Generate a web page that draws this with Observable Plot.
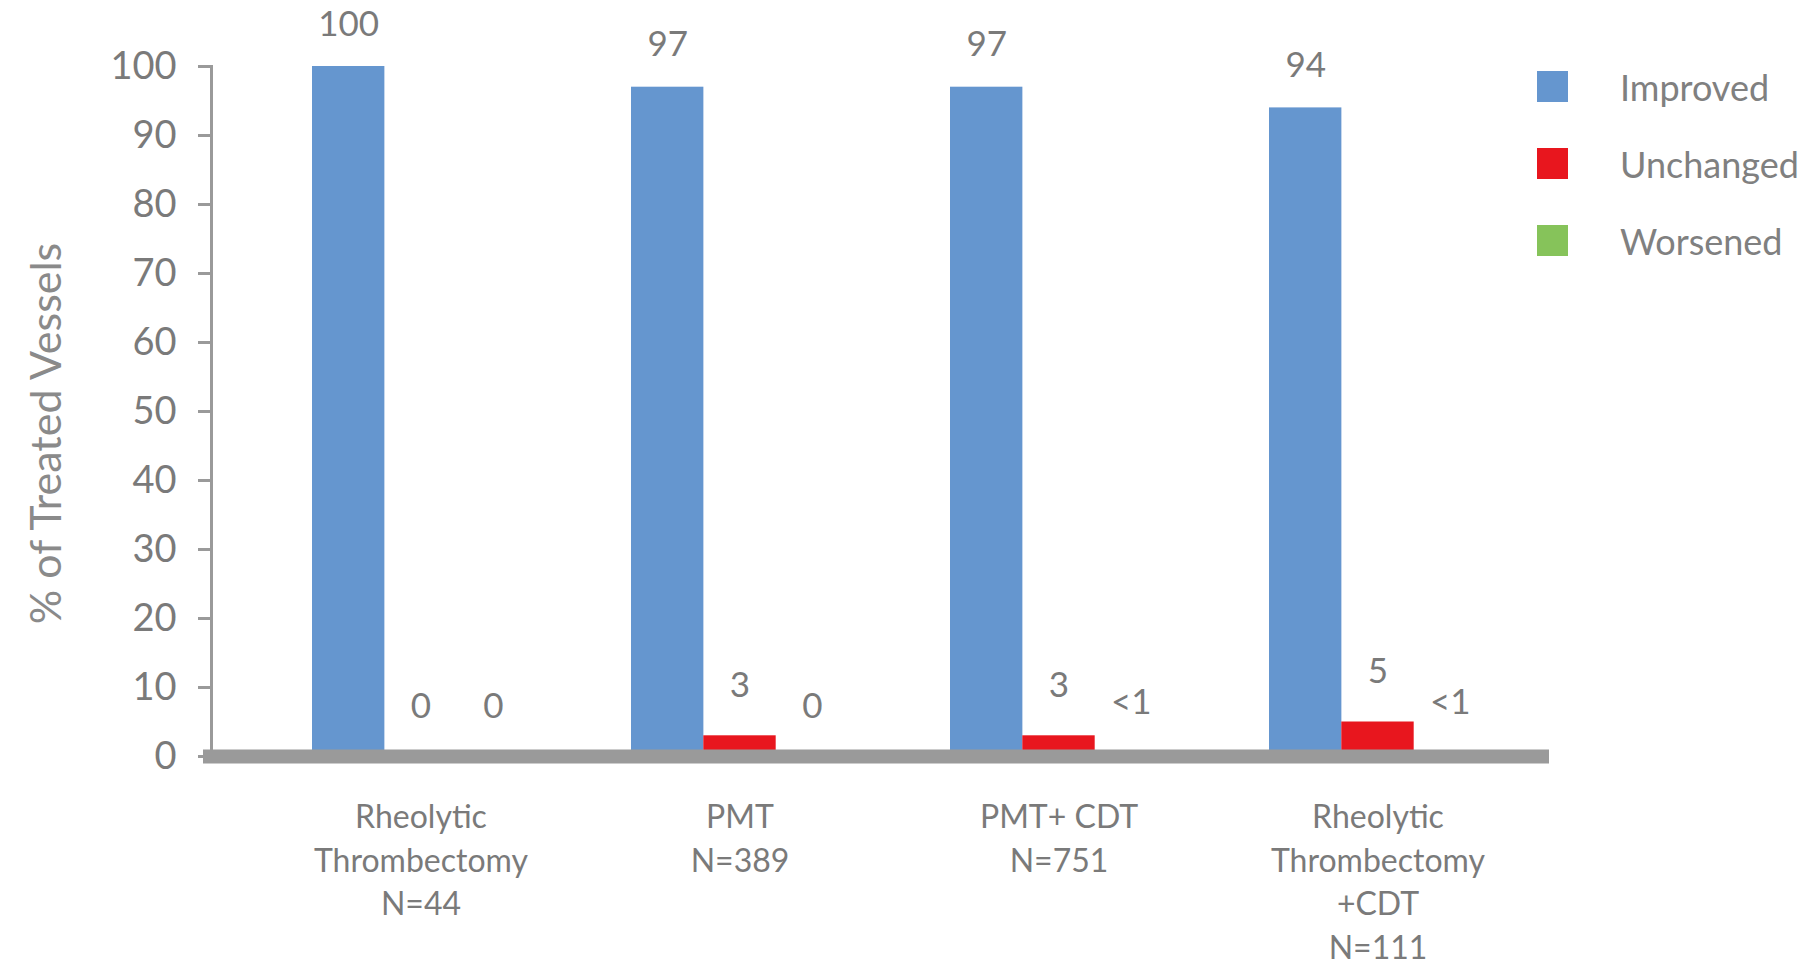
<!DOCTYPE html>
<html>
<head>
<meta charset="utf-8">
<script src="https://cdn.jsdelivr.net/npm/d3@7"></script>
<script src="https://cdn.jsdelivr.net/npm/@observablehq/plot@0.6"></script>
<style>
  html, body { margin: 0; padding: 0; background: #fff; }
  #wrap { position: relative; width: 1819px; height: 966px; font-family: Lato, "Open Sans", sans-serif; }
  #legend { position: absolute; left: 1537px; top: 48px; }
  #legend .row { display: flex; align-items: center; height: 77px; }
  #legend .sw { width: 31px; height: 31px; margin-right: 52px; }
  #legend .lab { font-size: 36px; color: #808080; }
</style>
</head>
<body>
<div id="wrap"><div id="legend"></div></div>
<script>
// Treatment groups (x axis), one line of the label per entry
const categories = [
  "Rheolytic\nThrombectomy\nN=44",
  "PMT\nN=389",
  "PMT+ CDT\nN=751",
  "Rheolytic\nThrombectomy\n+CDT\nN=111"
];
const series = ["Improved", "Unchanged", "Worsened"];
const improved  = [100, 97, 97, 94];
const unchanged = [0, 3, 3, 5];
const worsened  = [0, 0, 0.5, 0.5];   // 0.5 stands for "<1"
const colors = ["#6596cf", "#e8161e", "#86c35a"];
const yTicks = [0, 10, 20, 30, 40, 50, 60, 70, 80, 90, 100];

const values = [improved, unchanged, worsened];
const rows = series.flatMap((s, si) =>
  categories.map((c, ci) => ({series: s, category: c, value: values[si][ci]})));
const labelOf = v => (v > 0 && v < 1 ? "<1" : String(v));

// layout
const W = 1819, H = 966;
const mL = 211, mR = 270, mT = 66, mB = 210;
const pad = 0.32, padOuter = 0.257, align = 0.613;
const step = (W - mL - mR) / (categories.length - pad + 2 * padOuter);
const bw = step * (1 - pad);
const third = bw / 3;

const marks = [
  Plot.frame({anchor: "left", stroke: "#9a9a9a", strokeWidth: 3})
];
series.forEach((s, si) => {
  const data = rows.filter(d => d.series === s);
  marks.push(Plot.barY(data, {
    x: "category", y: "value", fill: colors[si],
    insetLeft: third * si, insetRight: third * (2 - si)
  }));
  marks.push(Plot.text(data, {
    x: "category", y: "value", text: d => labelOf(d.value),
    dx: third * (si - 1), fill: "#7a7a7a", fontSize: 35,
    dy: si === 0 ? -42 : -50
  }));
});
marks.push(
  Plot.ruleY([0], {stroke: "#9a9a9a", strokeWidth: 14, insetLeft: -8}),
  Plot.axisY({ticks: yTicks, tickSize: 13, tickPadding: 22, stroke: "#9a9a9a",
    strokeWidth: 3, fill: "#7a7a7a", fontSize: 38, label: null}),
  Plot.axisX({tickSize: 0, tickPadding: 41, fill: "#7a7a7a", fontSize: 32,
    lineHeight: 1.36, label: null}),
  Plot.text(["% of Treated Vessels"], {frameAnchor: "left", textAnchor: "middle",
    rotate: -90, dx: -164, dy: 22, fill: "#8a8a8a", fontSize: 43})
);

const chart = Plot.plot({
  width: W, height: H,
  marginLeft: mL, marginRight: mR, marginTop: mT, marginBottom: mB,
  style: {fontFamily: "Lato, 'Open Sans', sans-serif", fontSize: "30px", background: "white"},
  x: {domain: categories, padding: pad, paddingOuter: padOuter, align},
  y: {domain: [0, 100]},
  marks
});
document.getElementById("wrap").prepend(chart);
chart.style.position = "absolute";
chart.style.left = "0";
chart.style.top = "0";

// legend
const legend = d3.select("#legend");
series.forEach((s, i) => {
  const r = legend.append("div").attr("class", "row");
  r.append("div").attr("class", "sw").style("background", colors[i]);
  r.append("div").attr("class", "lab").text(s);
});
</script>
</body>
</html>
